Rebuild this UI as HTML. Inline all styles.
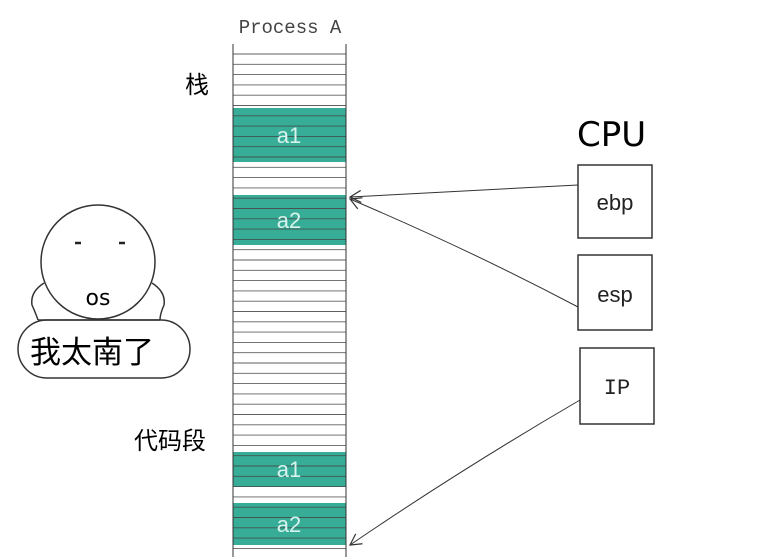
<!DOCTYPE html><html><head><meta charset="utf-8"><style>body{margin:0;background:#fff}svg{display:block}</style></head><body>
<svg width="773" height="557" xmlns="http://www.w3.org/2000/svg" font-family="Liberation Sans, Noto Sans CJK SC, sans-serif">
<defs><marker id="ar" markerUnits="userSpaceOnUse" markerWidth="14" markerHeight="14" refX="12" refY="7" orient="auto"><path d="M1,1 L12,7 L1,13" fill="none" stroke="#333" stroke-width="1.2"/></marker></defs>
<text x="290" y="33" font-family="Liberation Mono, monospace" font-size="19" fill="#444" text-anchor="middle">Process A</text>
<rect x="233" y="108" width="113" height="54" fill="#37ad97"/>
<rect x="233" y="195" width="113" height="50" fill="#37ad97"/>
<rect x="233" y="452" width="113" height="35" fill="#37ad97"/>
<rect x="233" y="503" width="113" height="42" fill="#37ad97"/>
<g stroke="#333" stroke-width="1">
<line x1="233" y1="44" x2="233" y2="557"/><line x1="346" y1="44" x2="346" y2="557"/>
</g>
<g id="rows" stroke="#444" stroke-width="0.9" opacity="0.85"></g>
<script>var g=document.getElementById('rows');for(var y=54;y<557;y+=10.3){var l=document.createElementNS('http://www.w3.org/2000/svg','line');l.setAttribute('x1',233);l.setAttribute('x2',346);l.setAttribute('y1',y);l.setAttribute('y2',y);g.appendChild(l);}</script>
<g fill="#d8f3ee" font-size="22" text-anchor="middle">
<text x="289" y="143">a1</text><text x="289" y="228">a2</text><text x="289" y="477">a1</text><text x="289" y="532">a2</text></g>
<text x="185" y="93" font-size="24">栈</text>
<text x="134" y="449" font-size="24">代码段</text>
<text x="577" y="146" font-size="34" font-family="DejaVu Sans, sans-serif">CPU</text>
<g fill="none" stroke="#333" stroke-width="1.5">
<rect x="578" y="165" width="74" height="73"/>
<rect x="578" y="255" width="74" height="75"/>
<rect x="580" y="348" width="74" height="76"/>
</g>
<g font-size="22" text-anchor="middle" fill="#222">
<text x="615" y="210">ebp</text><text x="615" y="302">esp</text><text x="617" y="394" font-family="Liberation Mono, monospace">IP</text></g>
<g fill="none" stroke="#333" stroke-width="1">
<line x1="578" y1="185" x2="350" y2="197" marker-end="url(#ar)"/>
<path d="M578,307 Q470,250 350,199" marker-end="url(#ar)"/>
<path d="M580,400 Q460,470 350,545" marker-end="url(#ar)"/>
</g>
<g fill="none" stroke="#333" stroke-width="1.5">
<circle cx="98" cy="262" r="57"/>
<rect x="18" y="320" width="172" height="58" rx="29"/>
<path d="M44,283 Q30,292 32,305 Q36,314 38,320 M152,283 Q166,292 164,305 Q160,314 160,320"/>
<line x1="38" y1="320" x2="160" y2="320"/>
</g>
<g stroke="#222" stroke-width="2.5"><line x1="75" y1="243" x2="81" y2="243"/><line x1="119" y1="243" x2="125" y2="243"/></g>
<text x="98" y="305" font-size="22" text-anchor="middle" font-family="DejaVu Sans, sans-serif">os</text>
<text x="92" y="363" font-size="31" text-anchor="middle" font-family="Noto Sans CJK SC, sans-serif">我太南了</text>
</svg></body></html>
